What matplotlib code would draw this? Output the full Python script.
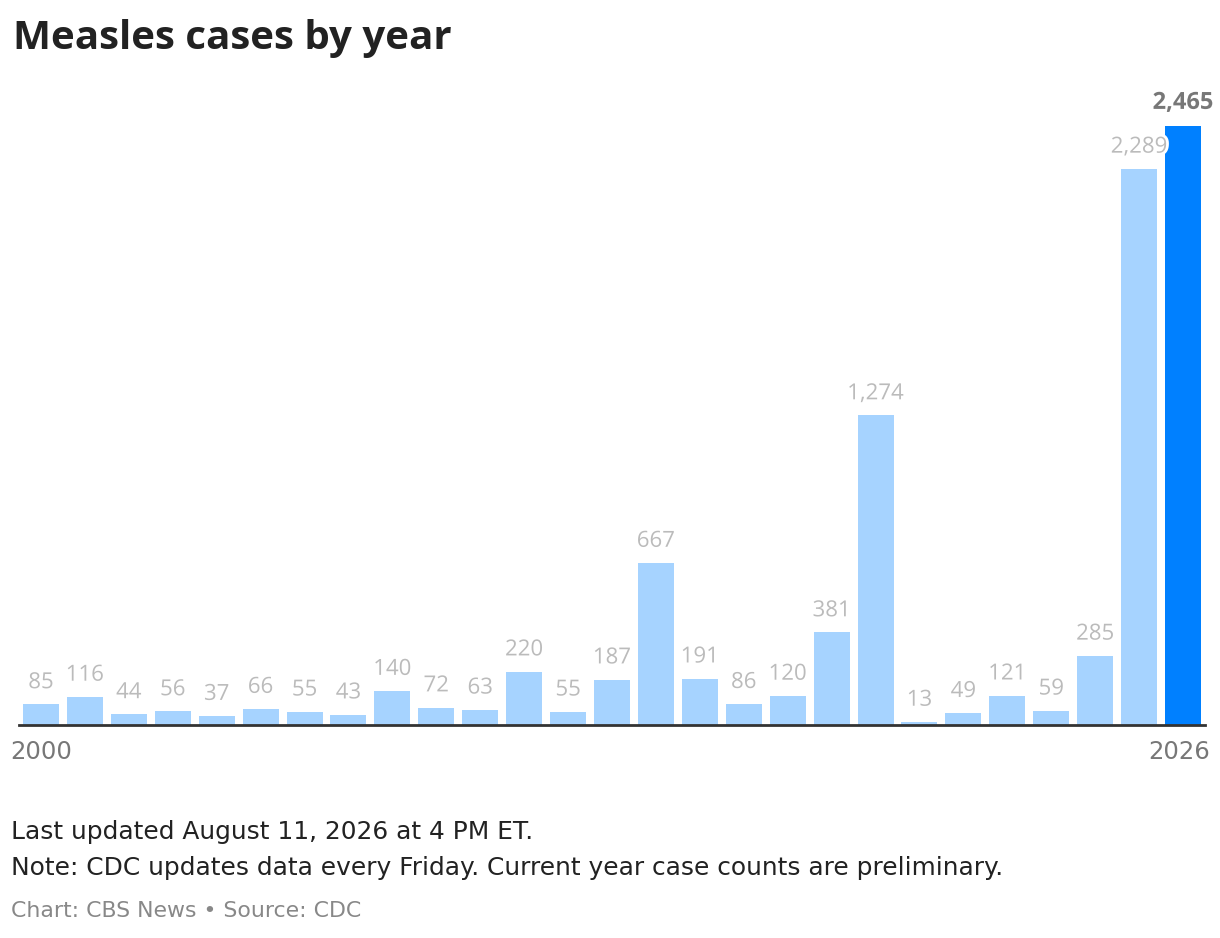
import matplotlib
matplotlib.use("Agg")
import matplotlib.pyplot as plt
import matplotlib.patheffects as pe

years = list(range(2000, 2027))
cases = [85, 116, 44, 56, 37, 66, 55, 43, 140, 72, 63, 220, 55, 187, 667,
         191, 86, 120, 381, 1274, 13, 49, 121, 59, 285, 2289, 2465]
title = "Measles cases by year"
note1 = "Last updated August 11, 2026 at 4 PM ET."
note2 = "Note: CDC updates data every Friday. Current year case counts are preliminary."
source = "Chart: CBS News \u2022 Source: CDC"

plt.rcParams['font.family'] = ['Open Sans', 'DejaVu Sans']
wide = ['DejaVu Sans']

fig = plt.figure(figsize=(12.2, 9.38), dpi=100)
ax = fig.add_axes([19/1220, 1 - 725/938, 1186/1220, (725 - 100)/938])

xs = list(range(len(years)))
colors = ['#a6d3ff'] * (len(years) - 1) + ['#0080ff']
ax.bar(xs, cases, width=0.82, color=colors, zorder=2)
ax.set_xlim(-0.5, len(years) - 0.5)
ax.set_ylim(0, 2465 * 625 / 599)

for i, v in enumerate(cases):
    last = i == len(cases) - 1
    t = ax.annotate(f"{v:,}", (i, v), xytext=(0, 8), textcoords='offset points',
                    ha='center', va='bottom', fontsize=17 if last else 16,
                    color='#777777' if last else '#bbbbbb',
                    fontweight='bold' if last else 'normal', zorder=3)
    t.set_path_effects([pe.withStroke(linewidth=4, foreground='white')])

for s in ['top', 'right', 'left']:
    ax.spines[s].set_visible(False)
ax.spines['bottom'].set_color('#333333')
ax.spines['bottom'].set_linewidth(2)
ax.set_yticks([])
ax.set_xticks([])

fig.text(10/1220, 1 - 752/938, str(years[0]), ha='left', va='center', fontsize=17.5,
         color='#777777', family=wide)
fig.text(1210/1220, 1 - 752/938, str(years[-1]), ha='right', va='center', fontsize=17.5,
         color='#777777', family=wide)

fig.text(13/1220, 1 - 38/938, title, ha='left', va='center', fontsize=29, fontweight='bold', color='#222222')
fig.text(11/1220, 1 - 832/938, note1, ha='left', va='center', fontsize=17.9, color='#222222', family=wide)
fig.text(11/1220, 1 - 868/938, note2, ha='left', va='center', fontsize=17.9, color='#222222', family=wide)
fig.text(11/1220, 1 - 911/938, source, ha='left', va='center', fontsize=15.8, color='#888888', family=wide)

fig.savefig('out.png', dpi=100, facecolor='white')
